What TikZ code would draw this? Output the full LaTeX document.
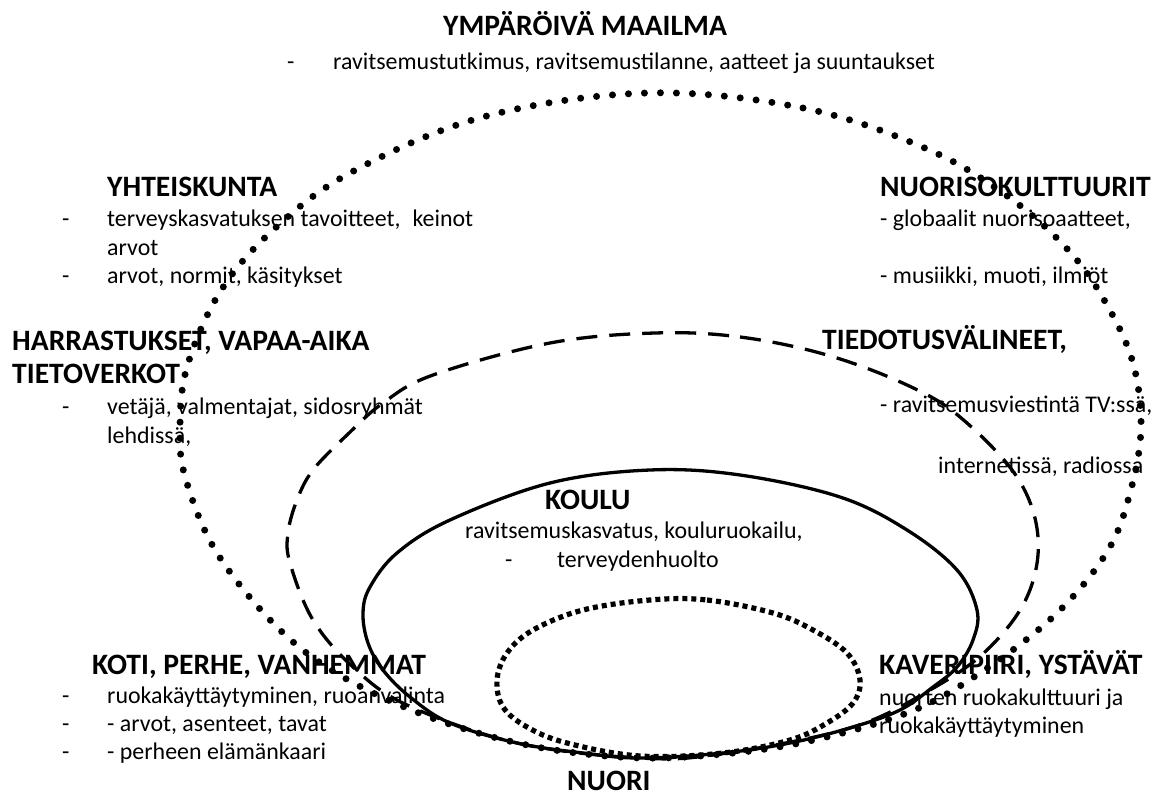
\documentclass[tikz,border=0pt]{standalone}
\usepackage{fontspec}
\setmainfont{Carlito}
\begin{document}
\begin{tikzpicture}[x=1pt,y=-1pt,
  body/.style={font=\fontsize{23.9}{28}\selectfont, inner sep=0pt, anchor=base west},
  head/.style={font=\fontsize{29.6}{34}\selectfont\bfseries, inner sep=0pt, anchor=base west},
  bigdots/.style={line width=7pt, line cap=round, dash pattern=on 0pt off 16pt},
  sqdots/.style={line width=5.2pt, line cap=butt, dash pattern=on 5pt off 4pt},
  dashline/.style={line width=3.3pt, dash pattern=on 21pt off 12pt},
  solidline/.style={line width=3.3pt}]
\useasboundingbox (0,0) rectangle (1167,799);
% texts
\node[head] (ymp) at (443,36) {YMPÄRÖIVÄ MAAILMA};
\node[body] (ympd) at (287,70) {-};
\node[body] (ympt) at (333,70) {ravitsemustutkimus, ravitsemustilanne, aatteet ja suuntaukset};

\node[head] (yht) at (107,197) {YHTEISKUNTA};
\node[body] (yhtd1) at (62,227) {-};
\node[body] (yhtt1) at (107,227) {terveyskasvatuksen tavoitteet,\hspace{0.5em}keinot};
\node[body] (yhtt2) at (107,256) {arvot};
\node[body] (yhtd3) at (62,284) {-};
\node[body] (yhtt3) at (107,284) {arvot, normit, käsitykset};

\node[head] (nuo) at (880,197) {NUORISOKULTTUURIT};
\node[body] (nuot1) at (880,227) {- globaalit nuorisoaatteet,};
\node[body] (nuot2) at (880,284) {- musiikki, muoti, ilmiöt};

\node[head] (har) at (12,351) {HARRASTUKSET, VAPAA-AIKA};
\node[head] (tie) at (12,384) {TIETOVERKOT};
\node[body] (hard1) at (62,414) {-};
\node[body] (hart1) at (107,414) {vetäjä, valmentajat, sidosryhmät};
\node[body] (hart2) at (107,443) {lehdissä,};

\node[head] (tdv) at (822,350) {TIEDOTUSVÄLINEET,};
\node[body] (tdvt1) at (880,412) {- ravitsemusviestintä TV:ssä,};
\node[body] (tdvt2) at (938,473) {internetissä, radiossa};

\node[head] (kou) at (545,509) {KOULU};
\node[body] (kout1) at (465,538) {ravitsemuskasvatus, kouluruokailu,};
\node[body] (koud2) at (505,567) {-};
\node[body] (kout2) at (557,567) {terveydenhuolto};

\node[head] (kot) at (92,674) {KOTI, PERHE, VANHEMMAT};
\node[body] (kotd1) at (62,703) {-};
\node[body] (kott1) at (107,703) {ruokakäyttäytyminen, ruoanvalinta};
\node[body] (kotd2) at (62,731) {-};
\node[body] (kott2) at (107,731) {- arvot, asenteet, tavat};
\node[body] (kotd3) at (62,759) {-};
\node[body] (kott3) at (107,759) {- perheen elämänkaari};

\node[head] (kav) at (879,674) {KAVERIPIIRI, YSTÄVÄT};
\node[body] (kavt1) at (879,705) {nuorten ruokakulttuuri ja};
\node[body] (kavt2) at (879,733) {ruokakäyttäytyminen};

\node[head] (nuori) at (567,790) {NUORI};

% outer dotted shape
\draw[bigdots] plot[smooth cycle, tension=0.6] coordinates {
 (647,93) (803,108) (927,149) (1010,198) (1070,252) (1107,305) (1133,363)
 (1141,428) (1130,493) (1107,552) (1055,615) (980,673) (907,713) (800,743)
 (700,756) (620,757) (527,745) (432,718) (343,677) (278,628) (217,553)
 (186,480) (180,430) (187,367) (220,292) (272,231) (350,173) (483,117)};

% dashed shape
\draw[dashline] plot[smooth cycle, tension=0.6] coordinates {
 (655,333) (740,337) (827,355) (907,385) (960,417) (1017,477) (1038,537)
 (1027,597) (987,650) (930,690) (850,728) (720,754) (640,758) (517,743)
 (407,705) (353,667) (313,620) (290,563) (288,533) (297,500) (313,470)
 (347,435) (383,403) (433,375) (550,343)};

% solid shape
\draw[solidline] plot[smooth cycle, tension=0.6] coordinates {
 (650,470) (740,475) (840,497) (907,530) (957,570) (977,610) (973,640)
 (957,667) (933,687) (900,710) (853,727) (790,743) (723,753) (640,758)
 (583,753) (517,743) (450,723) (410,697) (383,670) (368,643) (363,613)
 (370,587) (397,553) (450,520) (550,483)};

% inner square-dotted shape
\draw[sqdots] plot[smooth cycle, tension=0.6] coordinates {
 (650,600) (707,600) (773,613) (813,630) (847,653) (860,680) (853,703)
 (827,723) (790,740) (723,753) (640,756) (567,743) (527,727) (503,707)
 (497,680) (507,653) (533,630) (583,610)};
\end{tikzpicture}
\end{document}
